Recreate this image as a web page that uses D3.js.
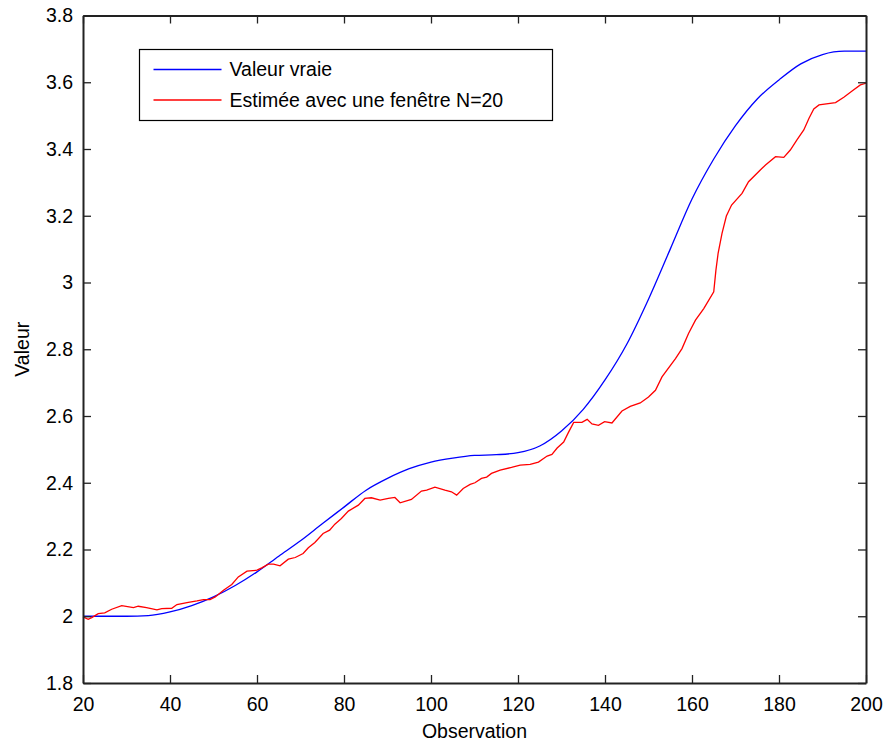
<!DOCTYPE html>
<html>
<head>
<meta charset="utf-8">
<title>Valeur vraie vs estimée</title>
<style>
  body { margin: 0; background: #fff; }
  svg text { font-family: "Liberation Sans", Arial, Helvetica, sans-serif; fill: #000; }
  .axis .domain { stroke: #222; stroke-width: 2; }
  .axis .tick line { stroke: #222; stroke-width: 1.3; }
  .axis text { font-size: 19.5px; }
  .line { fill: none; stroke-width: 1.3; }
</style>
</head>
<body>
<script src="https://cdn.jsdelivr.net/npm/d3@7"></script>
<script>
// true value, read every 5 observations
var trueObs = [20,25,30,35,40,45,50,55,60,65,70,75,80,85,90,95,100,105,110,115,
               120,125,130,135,140,145,150,155,160,165,170,175,180,185,190,195,200];
var trueVal = [2.000,2.000,2.000,2.002,2.013,2.032,2.058,2.092,2.133,2.180,2.226,2.277,2.327,2.377,2.413,2.442,2.462,2.474,2.482,2.484,
               2.490,2.510,2.555,2.620,2.708,2.815,2.950,3.100,3.250,3.370,3.470,3.550,3.607,3.655,3.683,3.693,3.693];

// estimate with window N=20
var estObs = [20,21.2,22,23.5,25,26.6,28.9,31.6,32.7,34.6,37,38.1,40.4,41.6,43.9,46.2,47.7,49.2,50.4,52.3,
              54.2,55.7,57.7,60,61.1,62.6,63.8,65.3,67.2,68.8,70.6,71.8,73.3,75.2,76.7,77.9,79.4,81,83.3,84.8,
              86.3,88.3,90.2,91.7,92.9,95.5,97.8,99,100.9,103.2,104.7,105.9,107.4,109,110.1,111.6,112.8,113.9,115.9,118.5,
              120.5,122.8,124.7,126.7,127.8,129,130.5,131.6,132.8,134.7,135.9,137,138.5,139.9,141.6,143.9,145.8,148.1,150,151.6,
              153.1,156.2,157.7,159.2,160.8,162.7,165,165.5,166,166.9,167.9,169.1,171.5,173,175.7,176.9,179.2,181.1,182.6,184.2,
              185.7,186.9,188,189.2,193,194.9,196.8,198.7,200];
var estVal = [1.998,1.991,1.996,2.008,2.010,2.021,2.032,2.026,2.030,2.026,2.019,2.023,2.024,2.035,2.041,2.046,2.050,2.050,2.058,2.078,
              2.095,2.118,2.135,2.138,2.145,2.156,2.156,2.151,2.171,2.176,2.188,2.205,2.221,2.248,2.258,2.276,2.293,2.315,2.333,2.353,
              2.355,2.348,2.353,2.356,2.340,2.350,2.375,2.378,2.387,2.378,2.373,2.363,2.383,2.395,2.400,2.413,2.417,2.428,2.438,2.446,
              2.453,2.455,2.462,2.480,2.485,2.504,2.522,2.551,2.581,2.581,2.590,2.576,2.572,2.583,2.579,2.615,2.629,2.639,2.657,2.677,
              2.717,2.772,2.802,2.847,2.887,2.922,2.972,3.037,3.087,3.147,3.199,3.232,3.267,3.302,3.337,3.352,3.377,3.375,3.397,3.429,
              3.457,3.492,3.520,3.532,3.539,3.555,3.574,3.592,3.597];

var xTicks = [20,40,60,80,100,120,140,160,180,200];
var yTicks = [1.8,2,2.2,2.4,2.6,2.8,3,3.2,3.4,3.6,3.8];
var legendLabels = ["Valeur vraie", "Estimée avec une fenêtre N=20"];
var colours = ["#0000ff", "#ff0000"];

var W = 885, H = 742;
var margin = {top: 15.5, right: 19, bottom: 59, left: 83},
    width = W - margin.left - margin.right,
    height = H - margin.top - margin.bottom;

var svg = d3.select("body").append("svg")
    .attr("width", W)
    .attr("height", H);
var g = svg.append("g")
    .attr("transform", "translate(" + margin.left + "," + margin.top + ")");

var x = d3.scaleLinear().domain([20, 200]).range([0, width]);
var y = d3.scaleLinear().domain([1.8, 3.8]).range([height, 0]);

// lines
var trueData = trueObs.map(function (d, i) { return {x: d, v: trueVal[i]}; });
var estData = estObs.map(function (d, i) { return {x: d, v: estVal[i]}; });

var smooth = d3.line().x(function (d) { return x(d.x); }).y(function (d) { return y(d.v); })
    .curve(d3.curveMonotoneX);
var jagged = d3.line().x(function (d) { return x(d.x); }).y(function (d) { return y(d.v); });

g.append("path").datum(trueData).attr("class", "line").attr("d", smooth).style("stroke", colours[0]);
g.append("path").datum(estData).attr("class", "line").attr("d", jagged).style("stroke", colours[1]);

// axes (box, ticks inside)
g.append("g").attr("class", "axis")
    .attr("transform", "translate(0," + height + ")")
    .call(d3.axisBottom(x).tickValues(xTicks).tickSizeInner(-8).tickSizeOuter(0).tickPadding(14));
g.append("g").attr("class", "axis")
    .call(d3.axisTop(x).tickValues(xTicks).tickSizeInner(-8).tickSizeOuter(0).tickFormat(""));
g.append("g").attr("class", "axis")
    .call(d3.axisLeft(y).tickValues(yTicks).tickSizeInner(-8).tickSizeOuter(0).tickPadding(10)
      .tickFormat(function (d) { return String(d); }));
g.append("g").attr("class", "axis")
    .attr("transform", "translate(" + width + ",0)")
    .call(d3.axisRight(y).tickValues(yTicks).tickSizeInner(-8).tickSizeOuter(0).tickFormat(""));

// axis titles
svg.append("text")
    .attr("x", margin.left + width / 2)
    .attr("y", 738)
    .attr("text-anchor", "middle")
    .style("font-size", "19.5px")
    .text("Observation");
svg.append("text")
    .attr("transform", "translate(29," + (margin.top + height / 2) + ") rotate(-90)")
    .attr("text-anchor", "middle")
    .style("font-size", "19.5px")
    .text("Valeur");

// legend
var legend = svg.append("g").attr("transform", "translate(139.5,49.5)");
legend.append("rect")
    .attr("width", 413).attr("height", 71)
    .style("fill", "#fff").style("stroke", "#000").style("stroke-width", 1.2);
legendLabels.forEach(function (lab, i) {
  var yy = 20 + i * 30.5;
  legend.append("line")
    .attr("x1", 14).attr("x2", 82).attr("y1", yy).attr("y2", yy)
    .style("stroke", colours[i]).style("stroke-width", 1.3);
  legend.append("text")
    .attr("x", 90).attr("y", yy).attr("dy", "0.35em")
    .style("font-size", "19.5px")
    .text(lab);
});
</script>
</body>
</html>
